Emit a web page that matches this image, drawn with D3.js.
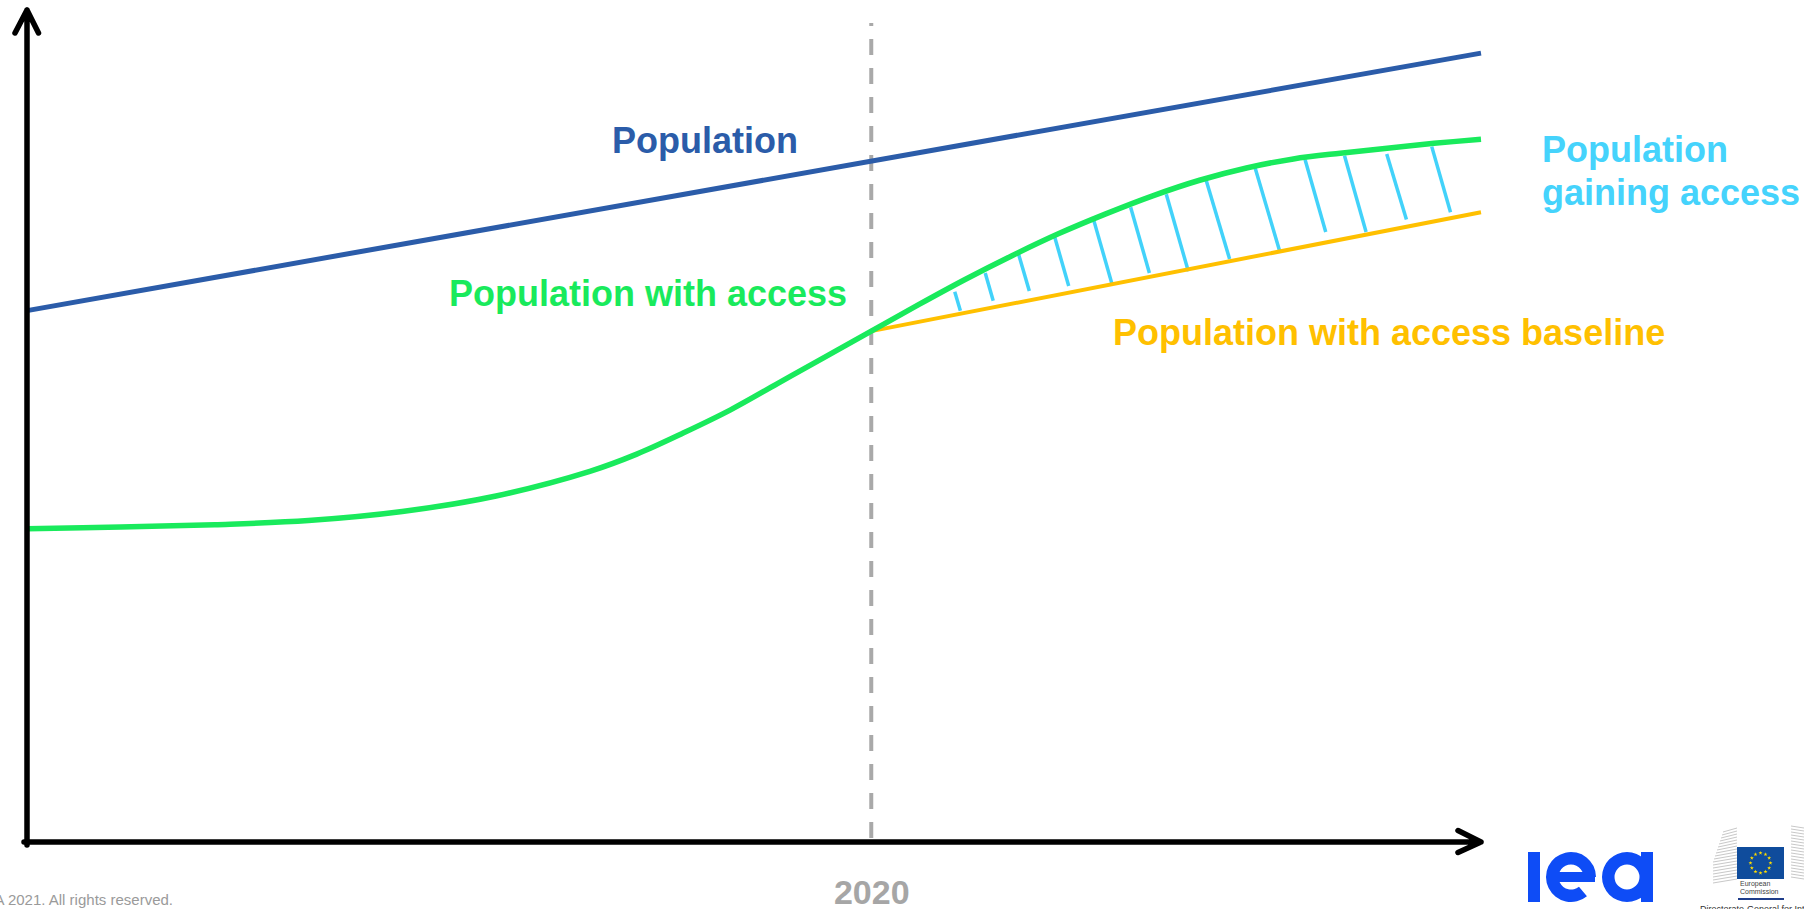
<!DOCTYPE html>
<html>
<head>
<meta charset="utf-8">
<script src="https://cdn.jsdelivr.net/npm/d3@7"></script>
<style>
  html, body { margin: 0; padding: 0; background: #fff; }
  svg { display: block; font-family: "Liberation Sans", Arial, sans-serif; }
</style>
</head>
<body>
<div id="chart"></div>
<script>
// years on the (unlabelled) x axis, values in arbitrary population units
var accessYears = [2002, 2004, 2006, 2008, 2010, 2012, 2014, 2015, 2016, 2017, 2018, 2019, 2020,
                   2021, 2022, 2023, 2024, 2025, 2026, 2027, 2028, 2029, 2030, 2031, 2032, 2033];
var accessValues = [38.2, 38.4, 38.7, 39.2, 40.3, 42.2, 45.2, 47.3, 49.9, 52.7, 55.9, 59.1, 62.3,
                    65.5, 68.6, 71.5, 74.2, 76.6, 78.8, 80.7, 82.2, 83.3, 84.0, 84.6, 85.2, 85.7];

var populationYears = [2002, 2033];
var populationValues = [64.8, 96.2];

var baselineYears = [2020, 2033];
var baselineValues = [62.3, 76.8];

// hatching between the access line and the baseline ("population gaining access")
var hatchTopYears = [2021.78, 2022.43, 2023.14, 2023.90, 2024.74, 2025.53, 2026.29, 2027.14, 2028.18, 2029.25, 2030.09, 2030.99, 2031.95];
var hatchTopValues = [67.1, 69.4, 71.7, 74.0, 75.9, 77.4, 79.0, 80.7, 82.3, 83.2, 83.7, 83.9, 84.8];
var hatchEndYears = [2021.90, 2022.60, 2023.37, 2024.21, 2025.14, 2025.93, 2026.76, 2027.64, 2028.71, 2029.69, 2030.55, 2031.41, 2032.35];
var hatchEndValues = [64.8, 66.0, 67.2, 67.8, 67.9, 69.4, 69.6, 71.1, 72.0, 74.4, 74.4, 75.9, 76.8];

var tickYears = [2020];
var splitYear = 2020;

var labelTexts = ["Population", "Population with access", "Population with access baseline"];
var labelColors = ["#2b5ca9", "#19ea5c", "#ffc000"];

var width = 1804, height = 909;

var svg = d3.select("#chart")
  .append("svg")
    .attr("width", width)
    .attr("height", height);

var x = d3.scaleLinear()
  .domain([2002, 2033])
  .range([27, 1481]);

var y = d3.scaleLinear()
  .domain([0, 100])
  .range([842, 22]);

// dashed 2020 marker
svg.append("line")
  .attr("x1", x(splitYear))
  .attr("x2", x(splitYear))
  .attr("y1", 23)
  .attr("y2", y(0))
  .style("stroke", "#a9a9a9")
  .style("stroke-width", 4)
  .style("stroke-dasharray", "16,13")
  .style("stroke-dashoffset", 13);

// x axis only carries the 2020 label
var xAxis = svg.append("g")
  .attr("transform", "translate(0," + y(0) + ")")
  .call(d3.axisBottom(x).tickValues(tickYears).tickSize(0).tickFormat(d3.format("d")));
xAxis.select(".domain").remove();
xAxis.selectAll("text")
  .attr("y", 62)
  .attr("dy", null)
  .style("font-family", "Liberation Sans, Arial, sans-serif")
  .style("font-size", "34px")
  .style("font-weight", "bold")
  .style("fill", "#a6a6a6");

var line = d3.line()
  .x(function (d) { return x(d[0]); })
  .y(function (d) { return y(d[1]); });

// hatching
svg.append("g")
  .selectAll("line")
  .data(hatchTopYears)
  .enter()
  .append("line")
    .attr("x1", function (d) { return x(d); })
    .attr("y1", function (d, i) { return y(hatchTopValues[i]); })
    .attr("x2", function (d, i) { return x(hatchEndYears[i]); })
    .attr("y2", function (d, i) { return y(hatchEndValues[i]); })
    .style("stroke", "#42d2fa")
    .style("stroke-width", 3.5);

svg.append("path")
  .datum(d3.zip(populationYears, populationValues))
  .attr("d", line)
  .style("fill", "none")
  .style("stroke", "#2b5ca9")
  .style("stroke-width", 5);

svg.append("path")
  .datum(d3.zip(baselineYears, baselineValues))
  .attr("d", line)
  .style("fill", "none")
  .style("stroke", "#ffc000")
  .style("stroke-width", 4);

svg.append("path")
  .datum(d3.zip(accessYears, accessValues))
  .attr("d", line.curve(d3.curveCatmullRom.alpha(0.5)))
  .style("fill", "none")
  .style("stroke", "#19ea5c")
  .style("stroke-width", 5.5);

// axes with arrow heads
var axisPath = d3.path();
axisPath.moveTo(x.range()[0], y(0) + 3);
axisPath.lineTo(x.range()[0], 10);
axisPath.moveTo(15, 33);
axisPath.lineTo(x.range()[0], 10);
axisPath.lineTo(38.5, 33);
axisPath.moveTo(24, y(0));
axisPath.lineTo(1481, y(0));
axisPath.moveTo(1458, 830.5);
axisPath.lineTo(1481, y(0));
axisPath.lineTo(1458, 852.5);
svg.append("path")
  .attr("d", axisPath.toString())
  .style("fill", "none")
  .style("stroke", "#000")
  .style("stroke-width", 5.5)
  .style("stroke-linecap", "round")
  .style("stroke-linejoin", "round");

// labels
var labelPos = [[612, 153], [449, 306], [1113, 345]];
svg.append("g")
  .selectAll("text")
  .data(labelTexts)
  .enter()
  .append("text")
    .attr("x", function (d, i) { return labelPos[i][0]; })
    .attr("y", function (d, i) { return labelPos[i][1]; })
    .text(function (d) { return d; })
    .style("font-size", "36px")
    .style("font-weight", "bold")
    .style("fill", function (d, i) { return labelColors[i]; });

var gain = svg.append("text")
  .attr("x", 1542)
  .attr("y", 162)
  .style("font-size", "36px")
  .style("font-weight", "bold")
  .style("fill", "#45d3fc");
gain.append("tspan").attr("x", 1542).text("Population");
gain.append("tspan").attr("x", 1542).attr("dy", 43).text("gaining access");

// footer
svg.append("text")
  .attr("x", 173)
  .attr("y", 905)
  .attr("text-anchor", "end")
  .style("font-size", "15px")
  .style("fill", "#9a9a9a")
  .text("\u00a9 IEA 2021. All rights reserved.");

// iea logo
var logo = svg.append("g").style("fill", "#0e4cf6");
logo.append("rect").attr("x", 1528).attr("y", 852).attr("width", 12).attr("height", 50);
logo.append("path")
  .attr("transform", "translate(1571,877)")
  .attr("d", d3.arc().innerRadius(12.5).outerRadius(25).startAngle(0.78 * Math.PI).endAngle(2.5 * Math.PI)());
logo.append("rect").attr("x", 1547).attr("y", 872).attr("width", 48).attr("height", 10);
logo.append("path")
  .attr("transform", "translate(1627,877)")
  .attr("d", d3.arc().innerRadius(12.5).outerRadius(25).startAngle(0).endAngle(2 * Math.PI)());
logo.append("rect").attr("x", 1641).attr("y", 852).attr("width", 12).attr("height", 50);

// european commission logo
var ec = svg.append("g");
d3.range(0, 18).forEach(function (k) {
  var yy = 828 + k * 3;
  ec.append("line").attr("x1", 1713 + Math.max(0, 10 - k)).attr("x2", 1737).attr("y1", yy + 4).attr("y2", yy)
    .style("stroke", "#c8c8c8").style("stroke-width", 1);
  ec.append("line").attr("x1", 1791).attr("x2", 1804).attr("y1", yy - 2).attr("y2", yy)
    .style("stroke", "#c8c8c8").style("stroke-width", 1);
});
ec.append("rect").attr("x", 1737).attr("y", 847).attr("width", 47).attr("height", 32).style("fill", "#0f4c9c");
d3.range(12).forEach(function (k) {
  var a = k / 12 * 2 * Math.PI;
  ec.append("path")
    .attr("transform", "translate(" + (1760.5 + 10 * Math.sin(a)) + "," + (863 - 10 * Math.cos(a)) + ")")
    .attr("d", d3.symbol().type(d3.symbolStar).size(5)())
    .style("fill", "#ffdd00");
});
ec.append("text").attr("x", 1740).attr("y", 886).text("European")
  .style("font-size", "7px").style("fill", "#444");
ec.append("text").attr("x", 1740).attr("y", 894).text("Commission")
  .style("font-size", "7px").style("fill", "#444");
ec.append("line").attr("x1", 1738).attr("x2", 1784).attr("y1", 899).attr("y2", 899)
  .style("stroke", "#1f3d8a").style("stroke-width", 2);
ec.append("text").attr("x", 1700).attr("y", 912).text("Directorate-General for International")
  .style("font-size", "9px").style("fill", "#333");
</script>
</body>
</html>
